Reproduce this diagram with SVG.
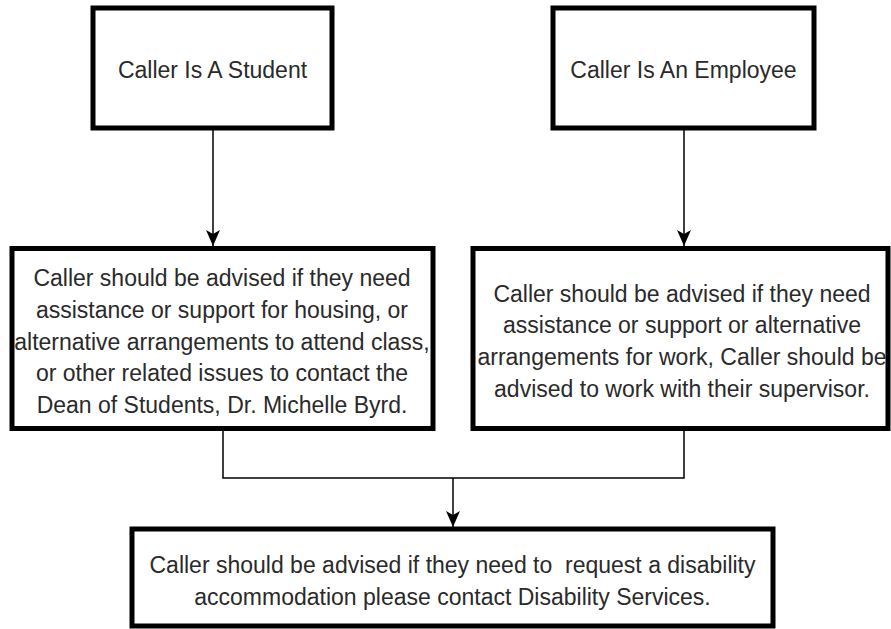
<svg xmlns="http://www.w3.org/2000/svg" width="891" height="629" viewBox="0 0 891 629">
  <style>
    .box { fill: #ffffff; stroke: #000000; stroke-width: 5; }
    .lbl { font-family: "Liberation Sans", Arial, sans-serif; font-size: 23px; fill: #2a2a2a; text-anchor: middle; white-space: pre; }
    .conn { fill: none; stroke: #000000; stroke-width: 1.5; }
  </style>
  <defs>
    <marker id="arrow" markerUnits="userSpaceOnUse" markerWidth="16" markerHeight="14" viewBox="0 0 16 14" refX="16" refY="7" orient="auto">
      <path d="M0,0 L16,7 L0,14 L4,7 z" fill="#000000"/>
    </marker>
  </defs>
  <rect x="0" y="0" width="891" height="629" fill="#ffffff"/>

  <g id="connectors">
    <line class="conn" x1="213" y1="130" x2="213" y2="246" marker-end="url(#arrow)"/>
    <line class="conn" x1="684" y1="130" x2="684" y2="246" marker-end="url(#arrow)"/>
    <polyline class="conn" points="223,431 223,478 684,478 684,431"/>
    <line class="conn" x1="453" y1="478" x2="453" y2="527" marker-end="url(#arrow)"/>
  </g>

  <g id="node-student">
    <rect class="box" x="93" y="8" width="239" height="120"/>
    <text class="lbl" x="212.5" y="78">Caller Is A Student</text>
  </g>

  <g id="node-employee">
    <rect class="box" x="553" y="8" width="261" height="120"/>
    <text class="lbl" x="683.5" y="78">Caller Is An Employee</text>
  </g>

  <g id="node-student-advice">
    <rect class="box" x="12" y="248.5" width="421" height="180"/>
    <text class="lbl" x="222" y="286">Caller should be advised if they need</text>
    <text class="lbl" x="222" y="318">assistance or support for housing, or</text>
    <text class="lbl" x="222" y="350">alternative arrangements to attend class,</text>
    <text class="lbl" x="222" y="381">or other related issues to contact the</text>
    <text class="lbl" x="222" y="413">Dean of Students, Dr. Michelle Byrd.</text>
  </g>

  <g id="node-employee-advice">
    <rect class="box" x="473" y="248.5" width="415" height="180"/>
    <text class="lbl" x="682" y="302">Caller should be advised if they need</text>
    <text class="lbl" x="682" y="333">assistance or support or alternative</text>
    <text class="lbl" x="682" y="365">arrangements for work, Caller should be</text>
    <text class="lbl" x="682" y="397">advised to work with their supervisor.</text>
  </g>

  <g id="node-disability">
    <rect class="box" x="132" y="529" width="641" height="97"/>
    <text class="lbl" x="452.5" y="573">Caller should be advised if they need to  request a disability</text>
    <text class="lbl" x="452.5" y="605">accommodation please contact Disability Services.</text>
  </g>
</svg>
